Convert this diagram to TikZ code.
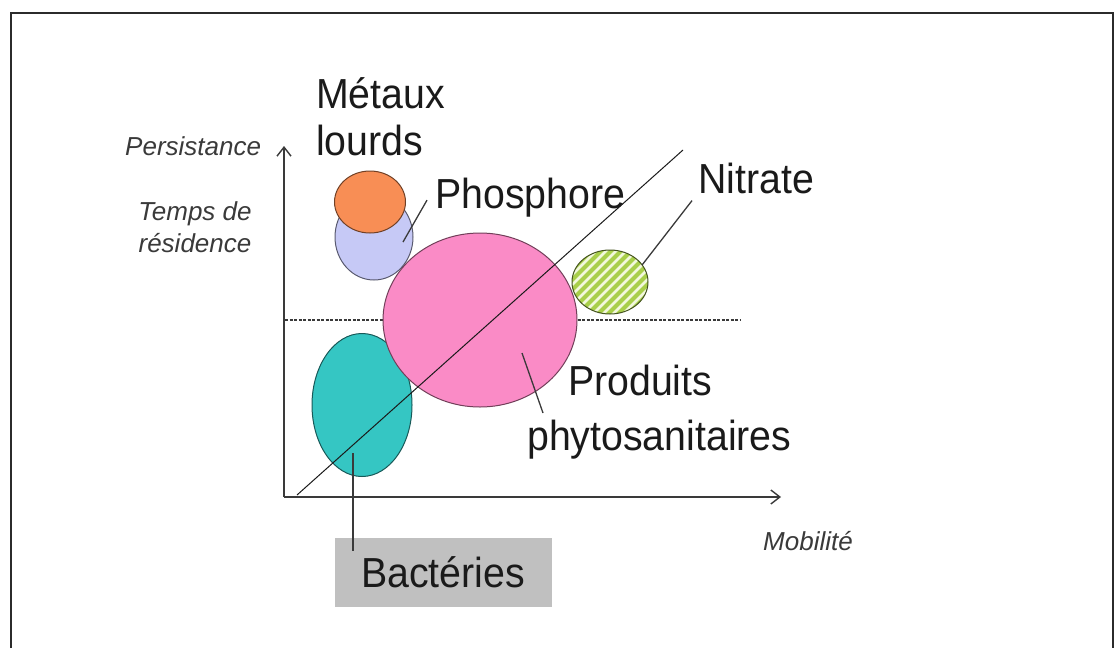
\documentclass[tikz,border=0pt]{standalone}
\usepackage{fontspec}
\setmainfont{Liberation Sans}
\newfontfamily\lblfont[FakeStretch=0.935]{Liberation Sans}
\usetikzlibrary{arrows.meta,shapes.geometric,calc}
\definecolor{ink}{HTML}{1A1A1A}
\definecolor{mut}{HTML}{3A3A3A}
\definecolor{frm}{HTML}{2B2B2B}
\definecolor{metc}{HTML}{F88E55}
\definecolor{phoc}{HTML}{C6C9F6}
\definecolor{phyc}{HTML}{FA8BC6}
\definecolor{bacc}{HTML}{35C6C3}
\definecolor{nitc}{HTML}{A9CF4A}
\definecolor{nitb}{HTML}{F2F8DC}
\definecolor{boxc}{HTML}{C0C0C0}
\tikzset{
  blob/.style={ellipse,draw=#1!45!black,fill=#1,line width=1pt,inner sep=0pt,outer sep=0pt},
  lbl/.style={font=\lblfont\fontsize{42}{47}\selectfont,text=ink,inner sep=0pt,align=left},
  axl/.style={font=\itshape\fontsize{26}{32}\selectfont,text=mut,inner sep=0pt},
  lead/.style={line width=1.3pt,mut},
  ax/.style={line width=1.6pt,mut,-{Straight Barb[length=9pt,width=14pt,line width=1.4pt]}},
}

\begin{document}
\begin{tikzpicture}[x=1pt,y=-1pt]
\useasboundingbox (0,0) rectangle (1115,648);
% frame
\draw[frm,line width=2pt] (11,648) -- (11,13) -- (1113,13) -- (1113,648);
% threshold line
\draw[mut,line width=1.3pt,dash pattern=on 3pt off 1.5pt] (285,320) -- (740,320);
% blobs
\node[blob=phoc,minimum width=78pt,minimum height=86pt] (phosE) at (374,237) {};
\node[blob=metc,minimum width=71pt,minimum height=62pt] (metE) at (370,202) {};
\node[blob=bacc,minimum width=100pt,minimum height=143pt] (bactE) at (362,405) {};
\node[blob=phyc,minimum width=194pt,minimum height=174pt] (phytoE) at (480,320) {};
\node[blob=nitb,draw=none,minimum width=76pt,minimum height=64pt] (nitE) at (610,282) {};
\begin{scope}
  \clip (nitE.center) ellipse [x radius=38pt,y radius=32pt];
  \foreach \i in {-9,...,9}
    \draw[nitc,line width=4pt] ($(nitE.center)+(\i*10-50,50)$) -- ++(100,-100);
\end{scope}
\draw[nitc!40!black,line width=1pt] (nitE.center) ellipse [x radius=38pt,y radius=32pt];
% diagonal
\coordinate (d0) at (297,495);
\coordinate (d1) at (683,150);
\draw[ink,line width=1pt] (d0) -- (d1);
% axes
\coordinate (o) at (284,497);
\coordinate (ytop) at (284,146);
\coordinate (xend) at (781,497);
\draw[ax] (o) -- (ytop);
\draw[ax] (o) -- (xend);
\node[axl,anchor=base west] (pers) at (125,155) {Persistance};
\node[axl,anchor=base,align=center] (temps) at (195,252) {Temps de\\résidence};
\node[axl,anchor=base west] (mob) at (763,550) {Mobilité};
% labels
\node[lbl,anchor=base west] (metaux) at (316,155) {Métaux\\lourds};
\node[lbl,anchor=base west] (phos) at (435,208) {Phosphore};
\node[lbl,anchor=base west] (nitr) at (698,193) {Nitrate};
\node[lbl,anchor=base west] (phyto) at (527,450) {\hspace*{41pt}Produits\\[8pt]phytosanitaires};
\node[lbl,fill=boxc,align=center,minimum width=217pt,minimum height=69pt] (bact) at (443,572) {Bactéries};
% leaders
\coordinate (phytoT) at (543,413);
\coordinate (bactT) at ($(bactE.center)+(-9,48)$);
\draw[lead] ([xshift=-8pt,yshift=-3pt]phos.west) -- ($(phosE.center)+(29,5)$);
\draw[lead] ([xshift=-6pt,yshift=-7pt]nitr.south west) -- (nitE.28);
\draw[lead] ($(phytoE.center)+(42,33)$) -- (phytoT);
\draw[lead] (bactT) -- ([yshift=-14pt]bactT |- bact.north);
\end{tikzpicture}
\end{document}
